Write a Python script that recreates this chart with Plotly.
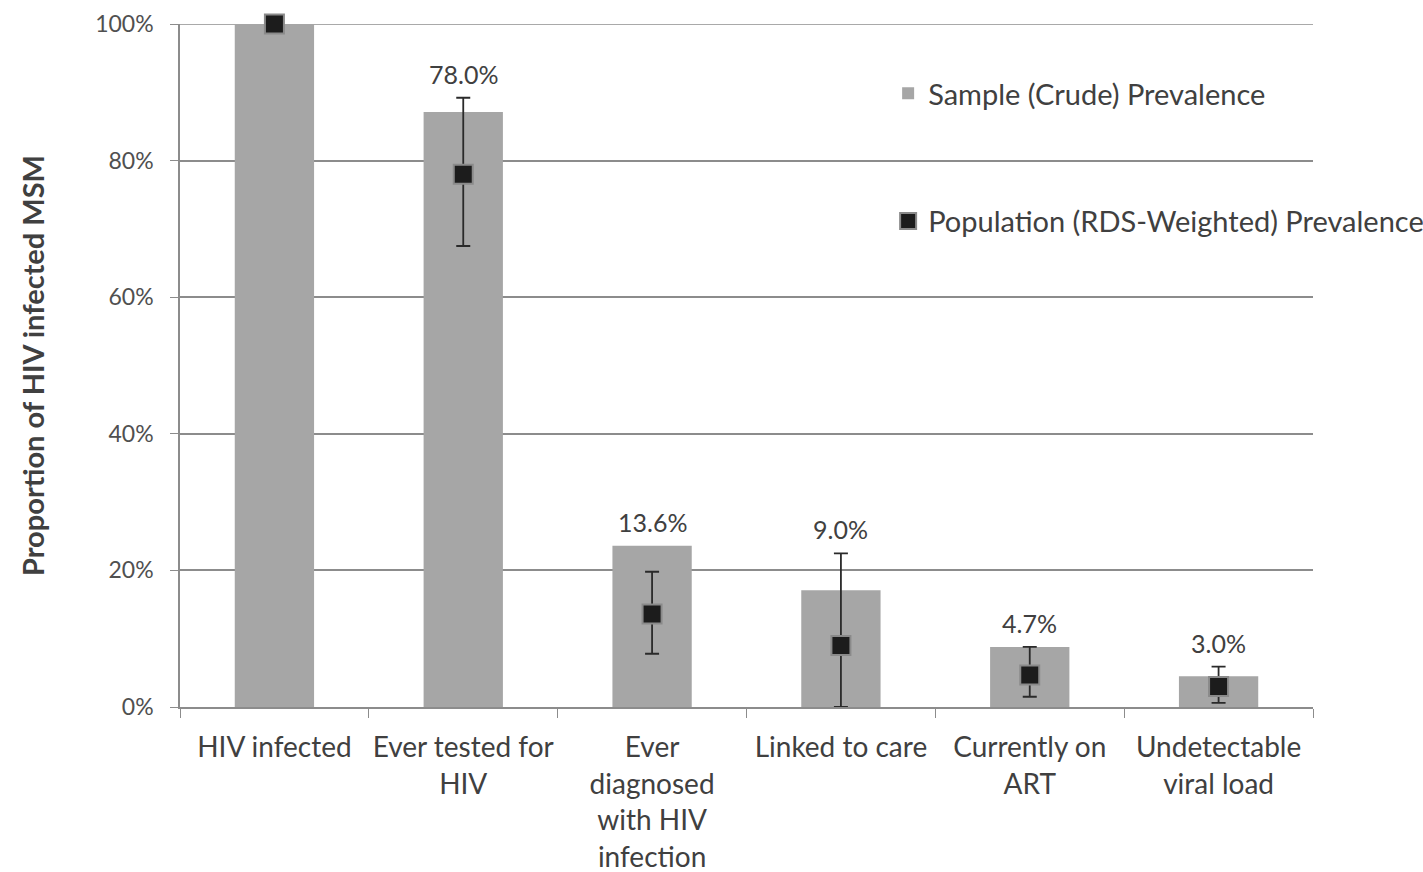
import plotly.graph_objects as go

# HIV care cascade among HIV-infected MSM
categories = [
    "HIV infected",
    "Ever tested for<br>HIV",
    "Ever<br>diagnosed<br>with HIV<br>infection",
    "Linked to care",
    "Currently on<br>ART",
    "Undetectable<br>viral load",
]
sample_prev = [100.0, 87.1, 23.6, 17.1, 8.8, 4.5]
population_prev = [100.0, 78.0, 13.6, 9.0, 4.7, 3.0]
ci_upper = [100.0, 89.2, 19.8, 22.5, 8.8, 5.9]
ci_lower = [100.0, 67.5, 7.8, 0.0, 1.5, 0.6]
value_labels = [None, "78.0%", "13.6%", "9.0%", "4.7%", "3.0%"]

FONT = "Lato"
GRID = "#8c8c8c"

err_plus = [u - p for u, p in zip(ci_upper, population_prev)]
err_minus = [p - l for p, l in zip(population_prev, ci_lower)]

fig = go.Figure()

fig.add_trace(go.Bar(
    x=categories,
    y=sample_prev,
    name="Sample (Crude) Prevalence",
    marker=dict(color="#a6a6a6", line=dict(width=0)),
    width=0.42,
    legendgroup="a",
))

fig.add_trace(go.Scatter(
    x=categories,
    y=population_prev,
    mode="markers",
    name="Population (RDS-Weighted) Prevalence",
    marker=dict(symbol="square", size=19, color="#1c1c1c",
                line=dict(color="#8a8a8a", width=2)),
    error_y=dict(type="data", symmetric=False, array=err_plus,
                 arrayminus=err_minus, color="#2a2a2a", thickness=1.8,
                 width=7),
    cliponaxis=False,
    legendgroup="b",
))

for cat, lab, top_b, top_e in zip(categories, value_labels, sample_prev, ci_upper):
    if lab is None:
        continue
    fig.add_annotation(
        x=cat, y=max(top_b, top_e), text=lab, showarrow=False,
        yanchor="bottom", yshift=7,
        font=dict(family=FONT, size=25, color="#404040"),
    )

# top gridline at 100%
fig.add_shape(type="line", xref="paper", yref="y", x0=0, x1=1, y0=100, y1=100,
              line=dict(color=GRID, width=1.5), layer="below")

fig.update_layout(
    width=1423, height=872,
    margin=dict(l=180, r=110, t=24, b=165, autoexpand=False),
    paper_bgcolor="white", plot_bgcolor="white",
    bargap=0.58,
    font=dict(family=FONT, color="#404040"),
    showlegend=True,
    legend=dict(
        x=0.625, y=0.9356, xanchor="left", yanchor="top",
        font=dict(family=FONT, size=29, color="#404040"),
        tracegroupgap=87, itemwidth=30, bgcolor="rgba(0,0,0,0)",
        traceorder="grouped",
    ),
)

fig.update_xaxes(
    showline=True, linecolor=GRID, linewidth=1.5,
    ticks="outside", tickson="boundaries", ticklen=9, tickcolor=GRID,
    tickfont=dict(family=FONT, size=28, color="#404040"),
    tickangle=0, ticklabelstandoff=15,
    showgrid=False, automargin=False,
)

fig.update_yaxes(
    range=[0, 100], tickvals=[0, 20, 40, 60, 80, 100],
    ticktext=["0%", "20%", "40%", "60%", "80%", "100%"],
    showline=True, linecolor=GRID, linewidth=1.5,
    ticks="outside", ticklen=8, tickcolor=GRID,
    showgrid=True, gridcolor=GRID, gridwidth=1.5,
    tickfont=dict(family=FONT, size=23, color="#505050"),
    ticklabelstandoff=12,
    title=dict(text="<b>Proportion of HIV infected MSM</b>",
               font=dict(family=FONT, size=29, color="#404040"), standoff=42),
    zeroline=False, automargin=False,
)

fig.write_html("out.html")
